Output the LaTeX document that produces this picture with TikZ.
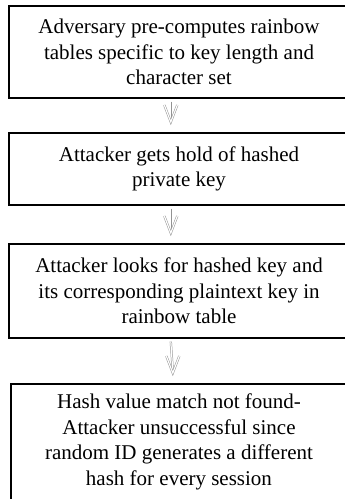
\documentclass[tikz,border=0pt]{standalone}
\usepackage{fontspec}
\setmainfont{Liberation Serif}
\begin{document}
\begin{tikzpicture}[x=1pt,y=-1pt,
  stepbox/.style={draw=black, line width=1.6pt},
  txt/.style={align=center, font=\fontsize{21}{25.5}\selectfont, inner sep=0pt},
  flow/.style={draw=gray!85, line width=0.5pt, double=white, double distance=1.2pt}]
\useasboundingbox (0,0) rectangle (345,499);
\clip (0,0) rectangle (345,499);
\node[stepbox, minimum width=342pt, minimum height=92pt, anchor=north west] (b1) at (8,5) {};
\node[txt] (t1) at (179,52) {Adversary pre-computes rainbow\\tables specific to key length and\\character set};
\node[stepbox, minimum width=342pt, minimum height=72pt, anchor=north west] (b2) at (8,132) {};
\node[txt] (t2) at (179,169) {Attacker gets hold of hashed\\private key};
\node[stepbox, minimum width=342pt, minimum height=94pt, anchor=north west] (b3) at (8,243) {};
\node[txt] (t3) at (179,291) {Attacker looks for hashed key and\\its corresponding plaintext key in\\rainbow table};
\node[stepbox, minimum width=342pt, minimum height=130pt, anchor=north west] (b4) at (10,383) {};
\node[txt] (t4) at (179,442) {Hash value match not found-\\Attacker unsuccessful since\\random ID generates a different\\hash for every session};
\foreach \a/\b in {b1/b2, b2/b3, b3/b4}{
  \coordinate (s) at ([xshift=-9pt,yshift=-3pt]\a.south);
  \coordinate (e) at ([xshift=-9pt,yshift=10pt]\b.north);
  \draw[flow] (s) -- ([yshift=2pt]e);
  \draw[flow] ([xshift=-6.5pt,yshift=17pt]e) -- (e) -- ([xshift=6.5pt,yshift=17pt]e);
}
\end{tikzpicture}
\end{document}
